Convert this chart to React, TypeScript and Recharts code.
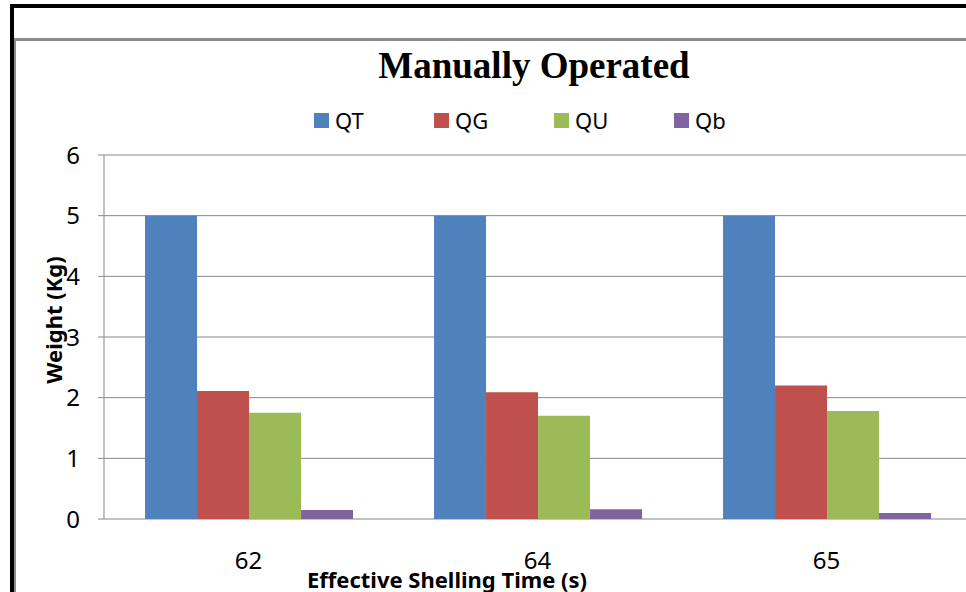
import React from 'react';
import { BarChart, Bar, XAxis, YAxis, CartesianGrid, Legend } from 'recharts';

const categories = ['62', '64', '65'];
const qT = [5, 5, 5];
const qG = [2.11, 2.09, 2.2];
const qU = [1.75, 1.7, 1.78];
const qB = [0.15, 0.16, 0.1];
const yTicks = [0, 1, 2, 3, 4, 5, 6];
const edgeTicks = [0, 1, 2, 3];

const seriesNames = ['QT', 'QG', 'QU', 'Qb'];
const seriesColors = ['#4F81BD', '#C0504D', '#9BBB59', '#8064A2'];

const data = categories.map((c, i) => ({
  time: c,
  QT: qT[i],
  QG: qG[i],
  QU: qU[i],
  Qb: qB[i],
}));

const FONT = '"Noto Sans", "DejaVu Sans", sans-serif';

const LegendContent = () => (
  <div style={{ display: 'flex', paddingLeft: 314, fontFamily: FONT, fontSize: 22, color: '#000' }}>
    {seriesNames.map((n, i) => (
      <div key={n} style={{ width: 120, display: 'flex', alignItems: 'center' }}>
        <span style={{ width: 15, height: 15, background: seriesColors[i], display: 'inline-block', marginRight: 6 }} />
        <span style={{ lineHeight: '24px' }}>{n}</span>
      </div>
    ))}
  </div>
);

const YLabel = (props: any) => {
  const vb = props.viewBox || {};
  const cx = 53;
  const cy = vb.y + vb.height / 2 - 17;
  return (
    <text x={cx} y={cy} transform={`rotate(-90 ${cx} ${cy})`} textAnchor="middle" dominantBaseline="central"
      style={{ fontFamily: FONT, fontSize: 22, fontWeight: 'bold', fill: '#000' }}>
      Weight (Kg)
    </text>
  );
};

const XLabel = (props: any) => {
  const vb = props.viewBox || {};
  return (
    <text x={447} y={vb.y + 69} textAnchor="middle"
      style={{ fontFamily: FONT, fontSize: 22, fontWeight: 'bold', fill: '#000' }}>
      Effective Shelling Time (s)
    </text>
  );
};

export default function App() {
  return (
    <div style={{ position: 'absolute', left: 0, top: 0, width: 966, height: 592, overflow: 'hidden', background: '#fff' }}>
      <div style={{ position: 'absolute', left: 10, top: 4, width: 956, height: 4, background: '#000' }} />
      <div style={{ position: 'absolute', left: 10, top: 4, width: 4, height: 588, background: '#000' }} />
      <div style={{ position: 'absolute', left: 14, top: 38, width: 952, height: 3, background: '#8c8c8c' }} />
      <div style={{ position: 'absolute', left: 14, top: 38, width: 2, height: 554, background: '#8c8c8c' }} />
      <div style={{ position: 'absolute', left: 0, top: 45, width: 1068, textAlign: 'center', fontFamily: '"Liberation Serif", "Times New Roman", serif', fontWeight: 'bold', fontSize: 37, color: '#000', lineHeight: '42px' }}>
        Manually Operated
      </div>
      <div style={{ position: 'absolute', left: 0, top: 0 }}>
        <BarChart width={966} height={592} data={data} margin={{ top: 155, right: -5, bottom: 0, left: 0 }}
          barCategoryGap="14.2%" barGap={0}>
          <CartesianGrid vertical={false} stroke="#878787" strokeWidth={1} />
          <XAxis xAxisId="edges" type="number" domain={[0, 3]} ticks={edgeTicks} height={0}
            tick={false} tickSize={7} stroke="#878787" axisLine={{ stroke: '#878787' }} tickLine={{ stroke: '#878787' }} />
          <XAxis xAxisId="cat" dataKey="time" type="category" height={73} axisLine={false} tickLine={false}
            tickSize={0} tickMargin={33} tick={{ fontFamily: FONT, fontSize: 24, fill: '#000' }}
            label={<XLabel />} />
          <YAxis width={104} domain={[0, 6]} ticks={yTicks} interval={0} tickSize={6} tickMargin={18}
            axisLine={{ stroke: '#878787' }} tickLine={{ stroke: '#878787' }}
            tick={{ fontFamily: FONT, fontSize: 24, fill: '#000' }} label={<YLabel />} />
          <Legend verticalAlign="middle" layout="horizontal" content={<LegendContent />}
            wrapperStyle={{ position: 'absolute', top: 108, left: 0, width: 966 }} />
          {seriesNames.map((n, i) => (
            <Bar key={n} xAxisId="cat" dataKey={n} fill={seriesColors[i]} isAnimationActive={false} />
          ))}
        </BarChart>
      </div>
    </div>
  );
}
